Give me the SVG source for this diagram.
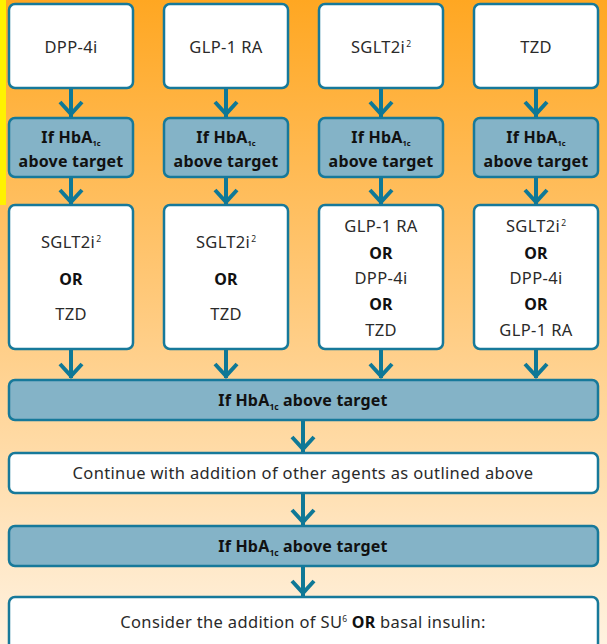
<svg xmlns="http://www.w3.org/2000/svg" width="607" height="644" viewBox="0 0 607 644">
<defs>
<linearGradient id="bg" x1="0" y1="0" x2="0" y2="1">
<stop offset="0" stop-color="#FFA722"/>
<stop offset="0.45" stop-color="#FFC878"/>
<stop offset="1" stop-color="#FFF2E0"/>
</linearGradient>
<style>
.w{fill:#fff;stroke:#17799A;stroke-width:2.5}
.b{fill:#84B3C7;stroke:#17799A;stroke-width:2.5}
.t{font-family:"Noto Sans",sans-serif;font-size:16.5px;letter-spacing:0.35px;fill:#2a2a2a;text-anchor:middle}
.k{font-weight:bold;fill:#111;font-size:16px;letter-spacing:0.2px}
.sub{font-size:8.5px;letter-spacing:0}
.s2{font-size:7.5px;letter-spacing:0}
.c path{fill:none;stroke:#0F7896;stroke-width:4}
</style>
</defs>
<rect width="607" height="644" fill="url(#bg)"/>
<rect x="0" y="0" width="6" height="205" fill="#FFF200"/>

<g class="c" id="connectors">
<path d="M71 88V117M60 102L71 114L82 102"/>
<path d="M226 88V117M215 102L226 114L237 102"/>
<path d="M381 88V117M370 102L381 114L392 102"/>
<path d="M536 88V117M525 102L536 114L547 102"/>
<path d="M71 177V204M60 190L71 202L82 190"/>
<path d="M226 177V204M215 190L226 202L237 190"/>
<path d="M381 177V204M370 190L381 202L392 190"/>
<path d="M536 177V204M525 190L536 202L547 190"/>
<path d="M71 349V378M60 364L71 376L82 364"/>
<path d="M226 349V378M215 364L226 376L237 364"/>
<path d="M381 349V378M370 364L381 376L392 364"/>
<path d="M536 349V378M525 364L536 376L547 364"/>
<path d="M303 420V452M292 437L303 449L314 437"/>
<path d="M303 493V525M292 510L303 522L314 510"/>
<path d="M303 566V596M292 581L303 593L314 581"/>
</g>

<g id="n1"><rect class="w" x="9" y="4" width="124" height="84" rx="6"/><text class="t" x="71" y="53">DPP-4i</text></g>
<g id="n2"><rect class="w" x="164" y="4" width="124" height="84" rx="6"/><text class="t" x="226" y="53">GLP-1 RA</text></g>
<g id="n3"><rect class="w" x="319" y="4" width="124" height="84" rx="6"/><text class="t" x="381" y="53">SGLT2i<tspan class="sub" dx="1" dy="-6">2</tspan></text></g>
<g id="n4"><rect class="w" x="474" y="4" width="124" height="84" rx="6"/><text class="t" x="536" y="53">TZD</text></g>

<g id="h1"><rect class="b" x="9" y="118" width="124" height="59" rx="6"/><text class="t k" x="71" y="143">If HbA<tspan class="s2" dy="3">1c</tspan></text><text class="t k" x="71" y="167">above target</text></g>
<g id="h2"><rect class="b" x="164" y="118" width="124" height="59" rx="6"/><text class="t k" x="226" y="143">If HbA<tspan class="s2" dy="3">1c</tspan></text><text class="t k" x="226" y="167">above target</text></g>
<g id="h3"><rect class="b" x="319" y="118" width="124" height="59" rx="6"/><text class="t k" x="381" y="143">If HbA<tspan class="s2" dy="3">1c</tspan></text><text class="t k" x="381" y="167">above target</text></g>
<g id="h4"><rect class="b" x="474" y="118" width="124" height="59" rx="6"/><text class="t k" x="536" y="143">If HbA<tspan class="s2" dy="3">1c</tspan></text><text class="t k" x="536" y="167">above target</text></g>

<g id="m1"><rect class="w" x="9" y="205" width="124" height="144" rx="6"/>
<text class="t" x="71" y="248">SGLT2i<tspan class="sub" dx="1" dy="-6">2</tspan></text>
<text class="t k" x="71" y="285">OR</text>
<text class="t" x="71" y="320">TZD</text></g>
<g id="m2"><rect class="w" x="164" y="205" width="124" height="144" rx="6"/>
<text class="t" x="226" y="248">SGLT2i<tspan class="sub" dx="1" dy="-6">2</tspan></text>
<text class="t k" x="226" y="285">OR</text>
<text class="t" x="226" y="320">TZD</text></g>
<g id="m3"><rect class="w" x="319" y="205" width="124" height="144" rx="6"/>
<text class="t" x="381" y="232">GLP-1 RA</text>
<text class="t k" x="381" y="259">OR</text>
<text class="t" x="381" y="284">DPP-4i</text>
<text class="t k" x="381" y="310">OR</text>
<text class="t" x="381" y="336">TZD</text></g>
<g id="m4"><rect class="w" x="474" y="205" width="124" height="144" rx="6"/>
<text class="t" x="536" y="232">SGLT2i<tspan class="sub" dx="1" dy="-6">2</tspan></text>
<text class="t k" x="536" y="259">OR</text>
<text class="t" x="536" y="284">DPP-4i</text>
<text class="t k" x="536" y="310">OR</text>
<text class="t" x="536" y="336">GLP-1 RA</text></g>

<g id="h5"><rect class="b" x="9" y="380" width="589" height="40" rx="6"/><text class="t k" x="303" y="406">If HbA<tspan class="sub" dy="4">1c</tspan><tspan dy="-4"> above target</tspan></text></g>
<g id="c1"><rect class="w" x="9" y="453" width="589" height="40" rx="6"/><text class="t" x="303" y="479">Continue with addition of other agents as outlined above</text></g>
<g id="h6"><rect class="b" x="9" y="526" width="589" height="40" rx="6"/><text class="t k" x="303" y="552">If HbA<tspan class="sub" dy="4">1c</tspan><tspan dy="-4"> above target</tspan></text></g>
<g id="c2"><rect class="w" x="9" y="597" width="589" height="60" rx="6"/><text class="t" x="303" y="628">Consider the addition of SU<tspan class="sub" dy="-6">6</tspan><tspan dy="6"> </tspan><tspan class="k">OR</tspan> basal insulin:</text></g>
</svg>
